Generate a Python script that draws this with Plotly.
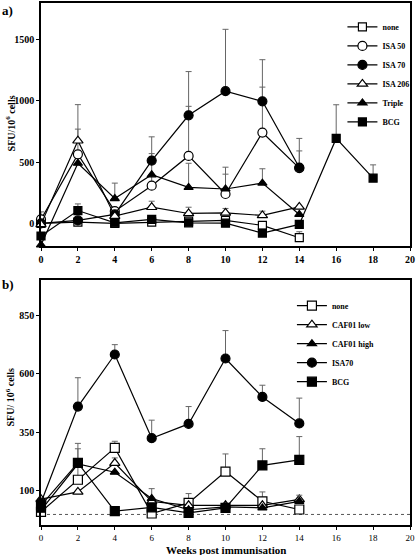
import plotly.graph_objects as go

# ---------------- Panel a data ----------------
weeks_a = [0, 2, 4, 6, 8, 10, 12, 14]
none_a = [0, 10, 0, 10, 19, 24, -16, -117]
none_a_err = [0, 0, 0, 0, 0, 0, 20, 49]
isa50_a = [32, 564, 100, 308, 551, 240, 742, 451]
isa50_a_err = [62, 206, 0, 262, 405, 219, 371, 141]
isa70_a = [0, 24, 73, 513, 883, 1080, 997, 456]
isa70_a_err = [0, 0, 0, 194, 357, 505, 340, 238]
isa206_a = [-8, 675, 59, 132, 81, 86, 65, 135]
isa206_a_err = [0, 295, 0, 49, 51, 36, 35, 0]
triple_a = [-176, 491, 203, 397, 294, 281, 329, 73]
triple_a_err = [0, 0, 126, 0, 197, 121, 117, 0]
weeks_bcg_a = [0, 2, 4, 6, 8, 10, 12, 14, 16, 18]
bcg_a = [-103, 105, 5, 32, 5, 2, -79, -8, 694, 370]
bcg_a_err = [0, 54, 0, 0, 0, 0, 0, 0, 275, 108]

# ---------------- Panel b data ----------------
weeks_b = [0, 2, 4, 6, 8, 10, 12, 14]
none_b = [11, 148, 284, 4, 49, 183, 56, 21]
none_b_err = [0, 132, 28, 0, 40, 75, 40, 0]
caflow_b = [65, 96, 219, 56, 39, 39, 39, 64]
caflow_b_err = [0, 0, 22, 0, 0, 0, 0, 0]
cafhigh_b = [18, 215, 180, 68, 20, 32, 28, 56]
cafhigh_b_err = [0, 0, 0, 42, 0, 0, 0, 26]
isa70_b = [50, 460, 682, 325, 386, 665, 501, 388]
isa70_b_err = [0, 123, 42, 77, 74, 119, 50, 108]
bcg_b = [39, 220, 14, 30, 7, 28, 209, 233]
bcg_b_err = [0, 83, 0, 0, 0, 0, 71, 99]

x_ticks = list(range(0, 21, 2))
y_ticks_a = [0, 500, 1000, 1500]
y_ticks_b = [100, 350, 600, 850]

FONT = "Liberation Serif"
ERRC = "#666666"


def trace(x, y, err, name, symbol, fill, xa, ya, legend, size=8):
    return go.Scatter(
        x=x, y=y, name=name, mode="lines+markers",
        xaxis=xa, yaxis=ya, legend=legend, cliponaxis=False,
        line=dict(color="black", width=1.2),
        marker=dict(symbol=symbol, size=size, color=fill,
                    line=dict(color="black", width=1.2)),
        error_y=dict(type="data", symmetric=False, array=err,
                     arrayminus=[0] * len(err), color=ERRC,
                     thickness=1, width=3),
    )


fig = go.Figure()
# panel a
fig.add_trace(trace(weeks_a, none_a, none_a_err, "none", "square", "white", "x", "y", "legend"))
fig.add_trace(trace(weeks_a, isa50_a, isa50_a_err, "ISA 50", "circle", "white", "x", "y", "legend", 9))
fig.add_trace(trace(weeks_a, isa70_a, isa70_a_err, "ISA 70", "circle", "black", "x", "y", "legend", 9))
fig.add_trace(trace(weeks_a, isa206_a, isa206_a_err, "ISA 206", "triangle-up", "white", "x", "y", "legend", 9))
fig.add_trace(trace(weeks_a, triple_a, triple_a_err, "Triple", "triangle-up", "black", "x", "y", "legend"))
fig.add_trace(trace(weeks_bcg_a, bcg_a, bcg_a_err, "BCG", "square", "black", "x", "y", "legend"))
# panel b
fig.add_trace(trace(weeks_b, none_b, none_b_err, "none", "square", "white", "x2", "y2", "legend2", 9))
fig.add_trace(trace(weeks_b, caflow_b, caflow_b_err, "CAF01 low", "triangle-up", "white", "x2", "y2", "legend2", 9))
fig.add_trace(trace(weeks_b, cafhigh_b, cafhigh_b_err, "CAF01 high", "triangle-up", "black", "x2", "y2", "legend2"))
fig.add_trace(trace(weeks_b, isa70_b, isa70_b_err, "ISA70", "circle", "black", "x2", "y2", "legend2", 9))
fig.add_trace(trace(weeks_b, bcg_b, bcg_b_err, "BCG", "square", "black", "x2", "y2", "legend2", 9))

axis_common = dict(showline=True, linecolor="black", linewidth=1.6, mirror=True,
                   showgrid=False, zeroline=False, ticks="outside", ticklen=3,
                   tickwidth=1.2, tickcolor="black", ticklabeloverflow="allow")

fig.update_layout(
    width=416, height=555,
    margin=dict(l=41, r=6, t=1, b=30),
    paper_bgcolor="white", plot_bgcolor="white",
    font=dict(family=FONT, color="black"),
    xaxis=dict(domain=[0, 1], anchor="y", range=[0, 20], tickvals=x_ticks,
               tickfont=dict(family=FONT, size=10, weight="bold"), **axis_common),
    yaxis=dict(domain=[0.5344, 1], anchor="x", range=[-185, 1800], tickvals=y_ticks_a,
               tickfont=dict(family=FONT, size=10, weight="bold"), **axis_common),
    xaxis2=dict(domain=[0, 1], anchor="y2", range=[0, 20], tickvals=x_ticks,
                tickfont=dict(family=FONT, size=9), **axis_common),
    yaxis2=dict(domain=[0, 0.4695], anchor="x2", range=[-45, 1000], tickvals=y_ticks_b,
                tickfont=dict(family=FONT, size=10, weight="bold"), **axis_common),
    legend=dict(x=1.012, y=0.982, xanchor="right", yanchor="top",
                font=dict(family=FONT, size=8, weight="bold"), bgcolor="rgba(0,0,0,0)"),
    legend2=dict(x=0.68, y=0.448, xanchor="left", yanchor="top",
                 font=dict(family=FONT, size=8, weight="bold"), bgcolor="rgba(0,0,0,0)"),
    showlegend=True,
)

# dotted baseline in panel b
fig.add_shape(type="line", xref="x2 domain", yref="y2", x0=0, x1=1, y0=0, y1=0,
              line=dict(color="#555555", width=1, dash="dot"), layer="below")


def font(size):
    return dict(family=FONT, size=size, weight="bold", color="black")


ann = dict(showarrow=False, xref="paper", yref="paper")
fig.add_annotation(text="a)", x=-0.11, y=0.985, xanchor="left", yanchor="middle",
                   font=font(13), **ann)
fig.add_annotation(text="b)", x=-0.11, y=0.461, xanchor="left", yanchor="middle",
                   font=font(13), **ann)
fig.add_annotation(text="SFU/10<sup>6</sup> cells", x=-0.083, y=0.77, textangle=-90,
                   xanchor="center", yanchor="middle", font=font(10), **ann)
fig.add_annotation(text="SFU/ 10<sup>6</sup> cells", x=-0.083, y=0.245, textangle=-90,
                   xanchor="center", yanchor="middle", font=font(10), **ann)
fig.add_annotation(text="Weeks post immunisation", x=0.5, y=-0.047, xanchor="center",
                   yanchor="middle", font=font(11), **ann)

fig.write_html("out.html", config={"displayModeBar": False},
               post_script="document.body.style.margin='0px';document.body.style.overflow='hidden';")
